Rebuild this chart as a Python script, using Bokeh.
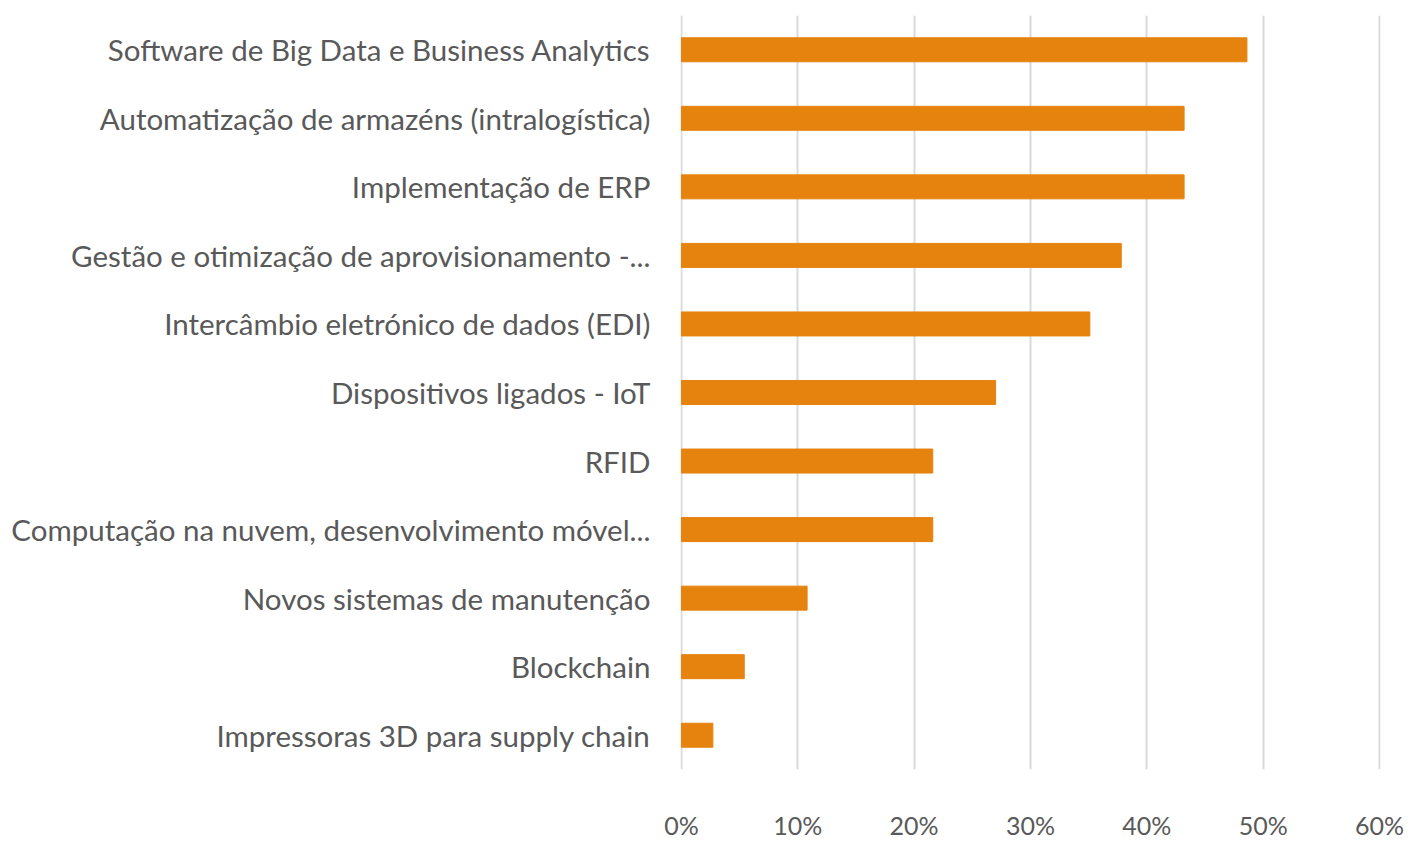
from bokeh.plotting import figure
from bokeh.models import NumeralTickFormatter, FactorRange, Range1d, FixedTicker
from bokeh.embed import file_html
from bokeh.resources import INLINE

categories = [
    "Software de Big Data e Business Analytics",
    "Automatização de armazéns (intralogística)",
    "Implementação de ERP",
    "Gestão e otimização de aprovisionamento -...",
    "Intercâmbio eletrónico de dados (EDI)",
    "Dispositivos ligados - IoT",
    "RFID",
    "Computação na nuvem, desenvolvimento móvel...",
    "Novos sistemas de manutenção",
    "Blockchain",
    "Impressoras 3D para supply chain",
]
values = [0.486, 0.432, 0.432, 0.378, 0.351, 0.270, 0.216, 0.216, 0.108, 0.054, 0.027]
x_ticks = [0, 0.1, 0.2, 0.3, 0.4, 0.5, 0.6]

FONT = "Lato"
TXT = "#595959"

p = figure(
    width=1417, height=842,
    y_range=FactorRange(*list(reversed(categories)), range_padding=0),
    x_range=Range1d(-0.0008, 0.6008),
    output_backend="svg", toolbar_location=None,
    min_border_left=680, min_border_right=37, min_border_top=15, min_border_bottom=66,
)
p.hbar(y=categories, right=values, left=0, height=0.35, color="#E6820E")

p.outline_line_color = None
p.ygrid.grid_line_color = None
p.xgrid.grid_line_color = "#D9D9D9"
p.xgrid.grid_line_width = 2
p.xgrid.level = "underlay"
p.xaxis.ticker = FixedTicker(ticks=x_ticks)
p.xaxis.formatter = NumeralTickFormatter(format="0%")
for ax in (p.xaxis, p.yaxis):
    ax.axis_line_color = None
    ax.major_tick_line_color = None
    ax.minor_tick_line_color = None
    ax.major_label_text_font = FONT
    ax.major_label_text_color = TXT
p.yaxis.major_label_text_font_size = "29.5px"
p.yaxis.major_label_standoff = 24
p.xaxis.major_label_text_font_size = "25px"
p.xaxis.major_label_standoff = 34

open("out.html", "w").write(file_html(p, INLINE))
